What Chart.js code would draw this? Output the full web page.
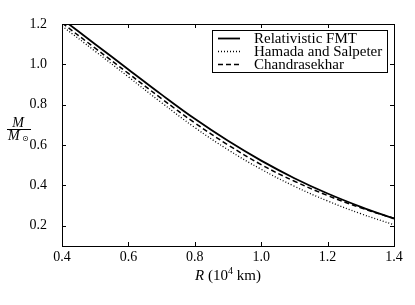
<!DOCTYPE html>
<html><head><meta charset="utf-8">
<script src="https://cdn.jsdelivr.net/npm/chart.js@4"></script>
<style>html,body{margin:0;padding:0;background:#fff}</style>
</head><body>
<canvas id="c" width="415" height="305"></canvas>
<script>
const rValues     = [0.4, 0.5, 0.6, 0.7, 0.8, 0.9, 1.0, 1.1, 1.2, 1.3, 1.4];
const fmtMass     = [1.225, 1.100, 0.975, 0.850, 0.730, 0.621, 0.523, 0.436, 0.360, 0.294, 0.236];
const hamadaMass  = [1.190, 1.065, 0.938, 0.810, 0.687, 0.577, 0.480, 0.396, 0.323, 0.260, 0.205];
const chandraMass = [1.205, 1.080, 0.955, 0.830, 0.710, 0.601, 0.503, 0.421, 0.350, 0.289, 0.237];
const seriesLabels = ['Relativistic FMT', 'Hamada and Salpeter', 'Chandrasekhar'];
const xTicks = [0.4, 0.6, 0.8, 1.0, 1.2, 1.4];
const yTicks = [0.2, 0.4, 0.6, 0.8, 1.0, 1.2];

const pts = arr => rValues.map((r, i) => ({x: r, y: arr[i]}));
const SERIF = '"Liberation Serif", "DejaVu Serif", serif';

const styles = [
  {borderWidth: 1.8, borderDash: []},
  {borderWidth: 1.3, borderDash: [1, 2]},
  {borderWidth: 1.5, borderDash: [5, 3]}
];

const decor = {
  id: 'decor',
  afterDraw(chart) {
    const {ctx, chartArea: a, scales: {x, y}} = chart;
    ctx.save();
    ctx.strokeStyle = '#000';
    ctx.lineWidth = 1;
    ctx.strokeRect(Math.round(a.left) + 0.5, Math.round(a.top) + 0.5,
                   Math.round(a.right - a.left), Math.round(a.bottom - a.top));
    const tl = 4;
    ctx.beginPath();
    xTicks.forEach(v => {
      const px = Math.round(x.getPixelForValue(v)) + 0.5;
      ctx.moveTo(px, a.bottom); ctx.lineTo(px, a.bottom - tl);
      ctx.moveTo(px, a.top); ctx.lineTo(px, a.top + tl);
    });
    yTicks.forEach(v => {
      const py = Math.round(y.getPixelForValue(v)) + 0.5;
      ctx.moveTo(a.left, py); ctx.lineTo(a.left + tl, py);
      ctx.moveTo(a.right, py); ctx.lineTo(a.right - tl, py);
    });
    ctx.stroke();

    // legend
    const lx = 212.5, ly = 30.5, lw = 175, lh = 42;
    ctx.fillStyle = '#fff';
    ctx.fillRect(lx, ly, lw, lh);
    ctx.strokeRect(lx, ly, lw, lh);
    ctx.fillStyle = '#000';
    ctx.font = '15px ' + SERIF;
    ctx.textBaseline = 'middle';
    ctx.textAlign = 'left';
    const rows = [38.5, 51.5, 64.5];
    chart.data.datasets.forEach((ds, i) => {
      ctx.beginPath();
      ctx.lineWidth = ds.borderWidth;
      ctx.setLineDash(ds.borderDash);
      ctx.moveTo(218, rows[i]); ctx.lineTo(240, rows[i]);
      ctx.stroke();
      ctx.setLineDash([]);
      ctx.fillText(ds.label, 254, rows[i] + 0.5);
    });

    // x title
    const cx = (a.left + a.right) / 2, ty = 276;
    const fR = 'italic 15px ' + SERIF, fN = '15px ' + SERIF, fS = '10px ' + SERIF;
    ctx.font = fR; const wR = ctx.measureText('R').width;
    ctx.font = fN; const w1 = ctx.measureText(' (10').width; const w3 = ctx.measureText(' km)').width;
    ctx.font = fS; const w2 = ctx.measureText('4').width;
    let sx = cx - (wR + w1 + w2 + w3) / 2;
    ctx.font = fR; ctx.fillText('R', sx, ty); sx += wR;
    ctx.font = fN; ctx.fillText(' (10', sx, ty); sx += w1;
    ctx.font = fS; ctx.fillText('4', sx, ty - 5); sx += w2;
    ctx.font = fN; ctx.fillText(' km)', sx, ty);

    // y title
    ctx.textAlign = 'center';
    ctx.font = 'italic 14px ' + SERIF;
    ctx.fillText('M', 18, 123);
    ctx.lineWidth = 1;
    ctx.beginPath(); ctx.moveTo(7, 129.5); ctx.lineTo(31, 129.5); ctx.stroke();
    ctx.textAlign = 'left';
    ctx.fillText('M', 8, 136);
    ctx.font = '8px "DejaVu Sans", sans-serif';
    ctx.fillText('\u2299', 22, 139);
    ctx.restore();
  }
};

new Chart(document.getElementById('c'), {
  type: 'line',
  data: {
    datasets: [fmtMass, hamadaMass, chandraMass].map((arr, i) => ({
      label: seriesLabels[i],
      data: pts(arr),
      borderColor: '#000',
      borderWidth: styles[i].borderWidth,
      borderDash: styles[i].borderDash,
      pointRadius: 0,
      fill: false,
      tension: 0.4
    }))
  },
  options: {
    responsive: false,
    animation: false,
    devicePixelRatio: 1,
    layout: {padding: {left: 0, right: 21, top: 24, bottom: 0}},
    plugins: {legend: {display: false}, tooltip: {enabled: false}},
    scales: {
      x: {
        type: 'linear', min: 0.4, max: 1.4,
        afterBuildTicks: s => { s.ticks = xTicks.map(v => ({value: v})); },
        afterFit: s => { s.height = 59; },
        grid: {display: false}, border: {display: false},
        ticks: {padding: -5, color: '#000', maxRotation: 0, font: {family: SERIF, size: 14},
                callback: v => Number(v).toFixed(1)}
      },
      y: {
        type: 'linear', min: 0.1, max: 1.2,
        afterBuildTicks: s => { s.ticks = yTicks.map(v => ({value: v})); },
        afterFit: s => { s.width = 62; },
        grid: {display: false}, border: {display: false},
        ticks: {padding: 7, color: '#000', font: {family: SERIF, size: 14},
                callback: v => Number(v).toFixed(1)}
      }
    }
  },
  plugins: [decor]
});
</script>
</body></html>
